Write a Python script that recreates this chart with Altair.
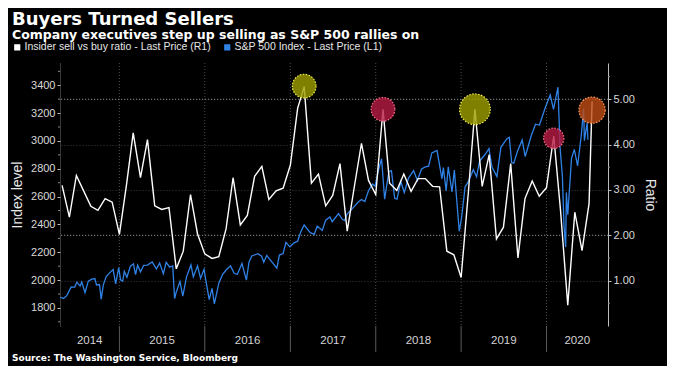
import altair as alt
import pandas as pd

TITLE = "Buyers Turned Sellers"
SUBTITLE = "Company executives step up selling as S&P 500 rallies on"
SOURCE = "Source: The Washington Service, Bloomberg"
SERIES = ["Insider sell vs buy ratio - Last Price (R1)", "S&P 500 Index - Last Price (L1)"]

# Insider sell/buy ratio (monthly, May 2014 .. Jul 2020, plus latest reading)
ratio_dates = [d.strftime("%Y-%m-%d") for d in pd.date_range("2014-05-01", "2020-07-01", freq="MS")] + ["2020-07-14"]
ratio_values = [
    3.10, 2.40, 3.32, 2.98, 2.64, 2.55, 2.81, 2.73,
    2.02, 3.14, 4.26, 3.27, 4.11, 2.65, 2.57, 2.61, 1.26, 1.65, 2.90, 2.03,
    1.59, 1.49, 1.53, 2.14, 3.27, 2.23, 2.44, 3.30, 3.52, 2.79, 2.98, 3.04,
    3.55, 4.80, 5.28, 3.15, 3.35, 2.65, 2.88, 3.58, 2.09, 3.06, 4.03, 3.21,
    2.90, 4.78, 3.15, 2.99, 3.35, 2.97, 3.25, 3.25, 3.08, 3.07, 1.65, 1.57,
    1.07, 2.95, 4.78, 3.08, 3.78, 1.92, 2.18, 3.58, 1.50, 2.81, 3.20, 2.86,
    3.05, 4.19, 2.55, 0.46, 2.51, 1.66, 2.70, 4.95,
]

# S&P 500 index level
sp_dates = [
    "2014-04-24", "2014-05-07", "2014-05-21", "2014-06-09", "2014-06-24", "2014-07-03", "2014-07-17",
    "2014-07-24", "2014-08-07", "2014-08-21", "2014-09-05", "2014-09-18", "2014-09-25", "2014-10-08",
    "2014-10-15", "2014-10-24", "2014-11-05", "2014-11-20", "2014-12-05", "2014-12-16", "2014-12-29",
    "2015-01-06", "2015-01-15", "2015-01-22", "2015-02-02", "2015-02-17", "2015-03-02", "2015-03-11",
    "2015-03-20", "2015-04-01", "2015-04-15", "2015-05-01", "2015-05-21", "2015-06-08", "2015-06-22",
    "2015-07-08", "2015-07-20", "2015-08-04", "2015-08-17", "2015-08-25", "2015-09-01", "2015-09-17",
    "2015-09-29", "2015-10-15", "2015-11-03", "2015-11-13", "2015-12-01", "2015-12-14", "2015-12-29",
    "2016-01-04", "2016-01-20", "2016-02-01", "2016-02-11", "2016-03-01", "2016-03-17", "2016-04-01",
    "2016-04-20", "2016-05-05", "2016-05-19", "2016-06-08", "2016-06-27", "2016-07-08", "2016-07-20",
    "2016-08-15", "2016-08-31", "2016-09-09", "2016-09-22", "2016-10-13", "2016-11-04", "2016-11-15",
    "2016-12-01", "2016-12-13", "2016-12-30",
    "2017-01-17", "2017-02-01", "2017-02-15", "2017-03-01", "2017-03-27", "2017-04-13", "2017-04-26",
    "2017-05-17", "2017-06-01", "2017-06-19", "2017-06-29", "2017-07-26", "2017-08-10", "2017-08-21",
    "2017-09-01", "2017-09-20", "2017-10-16", "2017-11-01", "2017-11-15", "2017-12-01", "2017-12-18",
    "2017-12-29",
    "2018-01-12", "2018-01-26", "2018-02-08", "2018-02-26", "2018-03-09", "2018-03-23", "2018-04-02",
    "2018-04-18", "2018-05-03", "2018-05-21", "2018-06-12", "2018-06-28", "2018-07-16", "2018-08-01",
    "2018-08-15", "2018-08-29", "2018-09-20", "2018-10-11", "2018-10-17", "2018-10-29", "2018-11-07",
    "2018-11-23", "2018-12-03", "2018-12-24",
    "2019-01-03", "2019-01-18", "2019-02-01", "2019-02-22", "2019-03-08", "2019-03-21", "2019-04-15",
    "2019-04-30", "2019-05-13", "2019-06-03", "2019-06-20", "2019-07-15", "2019-07-26", "2019-08-05",
    "2019-08-14", "2019-08-30", "2019-09-19", "2019-10-02", "2019-10-28", "2019-11-15", "2019-12-02",
    "2019-12-27",
    "2020-01-17", "2020-01-31", "2020-02-19", "2020-02-28", "2020-03-09", "2020-03-16", "2020-03-23",
    "2020-03-26", "2020-04-01", "2020-04-17", "2020-04-29", "2020-05-13", "2020-05-29", "2020-06-08",
    "2020-06-11", "2020-06-23", "2020-06-26",
]
sp_values = [
    1878, 1867, 1888, 1951, 1950, 1985, 1958,
    1987, 1910, 1992, 2007, 2011, 1965, 1968,
    1862, 1964, 2023, 2052, 2075, 1972, 2090,
    2002, 1992, 2063, 2020, 2100, 2117, 2040,
    2108, 2059, 2106, 2108, 2131, 2080, 2122,
    2046, 2128, 2093, 2102, 1867, 1913, 1990,
    1884, 2023, 2109, 2023, 2102, 2012, 2078,
    2012, 1859, 1940, 1829, 1978, 2040, 2072,
    2102, 2050, 2040, 2119, 2000, 2129, 2173,
    2190, 2171, 2128, 2177, 2132, 2085, 2180,
    2191, 2271, 2239,
    2268, 2279, 2349, 2396, 2341, 2329, 2388,
    2357, 2430, 2453, 2419, 2477, 2438, 2428,
    2476, 2508, 2557, 2579, 2564, 2642, 2690,
    2674,
    2786, 2872, 2581, 2779, 2786, 2588, 2582,
    2708, 2629, 2733, 2786, 2716, 2798, 2813,
    2818, 2914, 2931, 2728, 2809, 2641, 2814,
    2633, 2790, 2351,
    2448, 2670, 2707, 2793, 2743, 2855, 2906,
    2946, 2812, 2744, 2954, 3014, 3026, 2845,
    2840, 2926, 3006, 2888, 3039, 3120, 3114,
    3240,
    3330, 3226, 3386, 2954, 2747, 2386, 2237,
    2630, 2470, 2875, 2939, 2820, 3044, 3232,
    3002, 3131, 3009,
]

# highlighted ratio spikes
highlight_dates = ["2017-03-01", "2018-02-01", "2019-03-01", "2020-02-01", "2020-07-14"]
highlight_values = [5.29, 4.78, 4.78, 4.14, 4.76]
highlight_kind = ["yellow", "red", "yellow", "red", "orange"]

year_labels = [2014, 2015, 2016, 2017, 2018, 2019, 2020]
left_ticks = [1800, 2000, 2200, 2400, 2600, 2800, 3000, 3200, 3400]
left_minor = [1700, 1900, 2100, 2300, 2500, 2700, 2900, 3100, 3300, 3500]
right_ticks = [1, 2, 3, 4, 5]
right_minor = [0.5, 1.5, 2.5, 3.5, 4.5, 5.5]
ref_levels = [2, 5]

# ---------------- styling / layout ----------------
W, H = 548, 263
BLUE = "#2f82e6"
X0, X1 = pd.Timestamp("2014-04-22"), pd.Timestamp("2020-09-20")
SP_DOMAIN = [1670, 3560]
R_DOMAIN = [0, 5.8]
CIRCLE_STYLE = {
    "yellow": ("#a0a000", "#f2f24a"),
    "red": ("#b81c44", "#ff6d8c"),
    "orange": ("#c04c14", "#ff9a5a"),
}
CIRCLE_SIZE = [560, 560, 940, 410, 690]
LABEL_FONT = "Liberation Sans"

def dt(ts):
    return alt.DateTime(year=ts.year, month=ts.month, date=ts.day)

x_scale = alt.Scale(domain=[dt(X0), dt(X1)])
sp_scale = alt.Scale(domain=SP_DOMAIN, nice=False, zero=False)
r_scale = alt.Scale(domain=R_DOMAIN, nice=False, zero=False)

ratio_df = pd.DataFrame({"date": pd.to_datetime(ratio_dates), "ratio": ratio_values, "series": SERIES[0]})
sp_df = pd.DataFrame({"date": pd.to_datetime(sp_dates), "sp": sp_values, "series": SERIES[1]})
hl_df = pd.DataFrame({"date": pd.to_datetime(highlight_dates), "ratio": highlight_values, "kind": highlight_kind})

year_starts = pd.DataFrame({"date": [pd.Timestamp(f"{y}-01-01") for y in year_labels[1:]]})
mids = []
for y in year_labels:
    s = max(pd.Timestamp(f"{y}-01-01"), X0)
    e = min(pd.Timestamp(f"{y + 1}-01-01"), X1)
    mids.append(s + (e - s) / 2)
year_df = pd.DataFrame({"date": mids, "label": [str(y) for y in year_labels]})

quarter_ticks = [dt(d) for d in pd.date_range("2014-07-01", "2020-07-01", freq="QS")]

legend = alt.Legend(
    orient="none", legendX=-48, legendY=-21, direction="horizontal", title=None,
    symbolType="square", symbolSize=10, symbolStrokeWidth=3, symbolOpacity=1,
    labelColor="#e6e6e6", labelFontSize=10.5, labelFont=LABEL_FONT, columnPadding=8, labelOffset=2,
    labelLimit=0,
)
color = alt.Color("series:N", scale=alt.Scale(domain=SERIES, range=["#ffffff", BLUE]), legend=legend)

x_main = alt.X(
    "date:T", scale=x_scale,
    axis=alt.Axis(values=quarter_ticks, labels=False, title=None, grid=False, tickSize=3,
                  tickColor="#9a9a9a", domainColor="#8a8a8a", domainDash=[1, 1]),
)
x_plain = alt.X("date:T", scale=x_scale, axis=None)

sp_line = alt.Chart(sp_df).mark_line(strokeWidth=1.3).encode(
    x=x_main,
    y=alt.Y("sp:Q", scale=sp_scale, axis=alt.Axis(
        orient="left", values=left_ticks, format="d", title="Index level", grid=False,
        tickSize=3, tickColor="#bdbdbd", labelColor="#d8d8d8", labelFontSize=11, labelFont=LABEL_FONT,
        labelPadding=2, domainColor="#707070", domainDash=[1, 1],
        titleColor="#e8e8e8", titleFontSize=14, titleFontWeight="normal", titleFont=LABEL_FONT, titlePadding=6)),
    color=color,
)

ratio_line = alt.Chart(ratio_df).mark_line(strokeWidth=1.4).encode(
    x=x_plain,
    y=alt.Y("ratio:Q", scale=r_scale, axis=alt.Axis(
        orient="right", values=right_ticks, format=".2f", title="Ratio", grid=True,
        gridColor="#3a3a3a", gridDash=[1, 2], gridWidth=1,
        tickSize=3, tickColor="#bdbdbd", labelColor="#d8d8d8", labelFontSize=11, labelFont=LABEL_FONT,
        labelPadding=2, domainColor="#bdbdbd", domainWidth=1,
        titleColor="#e8e8e8", titleFontSize=14, titleFontWeight="normal", titleFont=LABEL_FONT, titlePadding=8)),
    color=color,
)

ref_rules = alt.Chart(pd.DataFrame({"level": ref_levels})).mark_rule(
    color="#8a8a8a", strokeDash=[1, 2], strokeWidth=1).encode(
    y=alt.Y("level:Q", scale=r_scale, axis=None))

vgrid = alt.Chart(year_starts).mark_rule(color="#4a4a4a", strokeDash=[1, 2], strokeWidth=1).encode(
    x=x_plain, y=alt.value(0), y2=alt.value(H))
separators = alt.Chart(year_starts).mark_rule(color="#5a5a5a", strokeWidth=1).encode(
    x=x_plain, y=alt.value(H), y2=alt.value(H + 26))

left_minor_ticks = alt.Chart(pd.DataFrame({"v": left_minor})).mark_rule(color="#8a8a8a").encode(
    y=alt.Y("v:Q", scale=sp_scale, axis=None), x=alt.value(-2), x2=alt.value(0))
right_minor_ticks = alt.Chart(pd.DataFrame({"v": right_minor})).mark_rule(color="#8a8a8a").encode(
    y=alt.Y("v:Q", scale=r_scale, axis=None), x=alt.value(W), x2=alt.value(W + 2))

circles = []
for i, (d, v, k) in enumerate(zip(highlight_dates, highlight_values, highlight_kind)):
    fill, stroke = CIRCLE_STYLE[k]
    circles.append(
        alt.Chart(hl_df.iloc[[i]]).mark_point(
            shape="circle", filled=True, fill=fill, fillOpacity=0.8, stroke=stroke, strokeWidth=1.2,
            strokeDash=[1.5, 1.5], strokeOpacity=1, size=CIRCLE_SIZE[i], opacity=1,
        ).encode(x=x_plain, y=alt.Y("ratio:Q", scale=r_scale, axis=None))
    )

year_text = alt.Chart(year_df).mark_text(
    font=LABEL_FONT, fontSize=11.5, color="#d4d4d4", baseline="middle", align="center").encode(
    x=x_plain, y=alt.value(H + 15), text="label:N")

source_text = alt.Chart(pd.DataFrame({"t": [SOURCE]})).mark_text(
    font="DejaVu Sans", fontWeight="bold", fontSize=9, color="#ffffff", align="left", baseline="middle").encode(
    x=alt.value(-48), y=alt.value(H + 32), text="t:N")

chart = alt.layer(
    vgrid, ref_rules, separators, left_minor_ticks, right_minor_ticks,
    sp_line, ratio_line, *circles, year_text, source_text,
).resolve_scale(y="independent", color="shared").properties(
    width=W, height=H,
    background="#000000",
    padding={"left": 52, "top": 55, "right": 59, "bottom": 40},
    autosize=alt.AutoSizeParams(type="none"),
    title=alt.TitleParams(
        text=TITLE, subtitle=SUBTITLE, anchor="start", frame="group", dx=-48, dy=19,
        color="#ffffff", font="DejaVu Sans", fontSize=18, fontWeight="bold",
        subtitleColor="#ffffff", subtitleFont="DejaVu Sans", subtitleFontSize=12.5,
        subtitleFontWeight="bold", subtitlePadding=0, offset=20,
    ),
).configure_view(stroke=None)

chart.save("out.html", embed_options={"renderer": "svg", "actions": False})
